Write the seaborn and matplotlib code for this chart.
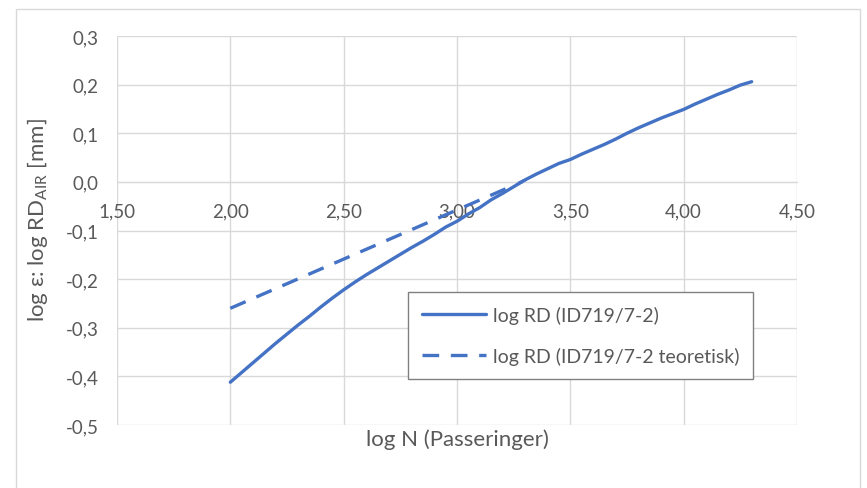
import numpy as np
import pandas as pd
import matplotlib
matplotlib.use("Agg")
import matplotlib.pyplot as plt
import seaborn as sns
from matplotlib.patches import Rectangle
from matplotlib.ticker import FuncFormatter

# data
log_n = [2.00, 2.05, 2.10, 2.15, 2.20, 2.25, 2.30, 2.35, 2.40, 2.45,
         2.50, 2.55, 2.60, 2.65, 2.70, 2.75, 2.80, 2.85, 2.90, 2.95,
         3.00, 3.05, 3.10, 3.15, 3.20, 3.25, 3.30, 3.35, 3.40, 3.45,
         3.50, 3.55, 3.60, 3.65, 3.70, 3.75, 3.80, 3.85, 3.90, 3.95,
         4.00, 4.05, 4.10, 4.15, 4.20, 4.25, 4.30]
log_rd = [-0.412, -0.392, -0.372, -0.352, -0.332, -0.313, -0.294, -0.276, -0.257, -0.239,
          -0.222, -0.206, -0.191, -0.177, -0.163, -0.149, -0.135, -0.122, -0.108, -0.093,
          -0.081, -0.066, -0.053, -0.037, -0.024, -0.010, 0.004, 0.016, 0.027, 0.038,
          0.046, 0.057, 0.067, 0.077, 0.088, 0.100, 0.111, 0.121, 0.131, 0.140,
          0.149, 0.160, 0.170, 0.180, 0.189, 0.199, 0.206]

log_n_teo = [2.00, 3.30]
log_rd_teo = [-0.26, 0.003]

label_maalt = "log RD (ID719/7-2)"
label_teo = "log RD (ID719/7-2 teoretisk)"

x_ticks = [1.5, 2.0, 2.5, 3.0, 3.5, 4.0, 4.5]
y_ticks = [-0.5, -0.4, -0.3, -0.2, -0.1, 0.0, 0.1, 0.2, 0.3]

BLUE = "#4472C4"
GRID = "#d9d9d9"
TXT = "#595959"

sns.set_style("white")
plt.rcParams["font.family"] = ["Lato", "DejaVu Sans"]

df = pd.DataFrame({"x": log_n, "y": log_rd})
df_teo = pd.DataFrame({"x": log_n_teo, "y": log_rd_teo})

fig = plt.figure(figsize=(8.67, 4.89), dpi=100)
ax = fig.add_axes([117 / 867, 1 - 426 / 489, (797 - 117) / 867, (426 - 37) / 489])

sns.lineplot(data=df, x="x", y="y", ax=ax, color=BLUE, linewidth=2.4,
             label=label_maalt, zorder=3)
sns.lineplot(data=df_teo, x="x", y="y", ax=ax, color=BLUE, linewidth=2.4,
             linestyle="--", label=label_teo, zorder=2)
ax.lines[-1].set_dashes([5, 3.5])

ax.set_xlim(1.5, 4.5)
ax.set_ylim(-0.5, 0.3)
ax.set_xticks(x_ticks)
ax.set_yticks(y_ticks)
ax.xaxis.set_major_formatter(FuncFormatter(lambda v, p: f"{v:.2f}".replace(".", ",")))
ax.yaxis.set_major_formatter(FuncFormatter(lambda v, p: f"{v:.1f}".replace(".", ",").replace("-0,0", "0,0")))
ax.grid(True, color=GRID, linewidth=1)
ax.set_axisbelow(True)

for s in ["top", "right", "left"]:
    ax.spines[s].set_visible(False)
ax.spines["bottom"].set_position(("data", 0))
ax.spines["bottom"].set_color(GRID)
ax.tick_params(axis="x", length=0, pad=15, labelsize=13.5, labelcolor=TXT)
ax.tick_params(axis="y", length=0, pad=13, labelsize=13.5, labelcolor=TXT)
ax.set_xlabel("")
ax.set_ylabel("")

fig.text(457 / 867, 1 - 440 / 489, "log N (Passeringer)", ha="center", va="center",
         fontsize=16, color=TXT)
fig.text(38 / 867, 1 - 220 / 489, r"log ε: log RD$_{\mathregular{AIR}}$ [mm]",
         ha="center", va="center", rotation=90, fontsize=16, color=TXT)

leg = ax.legend(loc="upper left", bbox_to_anchor=(408 / 867, 1 - 293 / 489),
                bbox_transform=fig.transFigure, fontsize=14, frameon=True,
                fancybox=False, framealpha=1, edgecolor="#808080",
                handlelength=3.3, handletextpad=0.35, labelspacing=1.2,
                borderpad=0.7, borderaxespad=0)
leg.get_frame().set_linewidth(1)
for t in leg.get_texts():
    t.set_color(TXT)

fig.add_artist(Rectangle((16 / 867, -0.05), (860 - 16) / 867, 1.05 - 10 / 489,
                         transform=fig.transFigure, fill=False, edgecolor=GRID, linewidth=1))

plt.savefig("out.png", dpi=100)
